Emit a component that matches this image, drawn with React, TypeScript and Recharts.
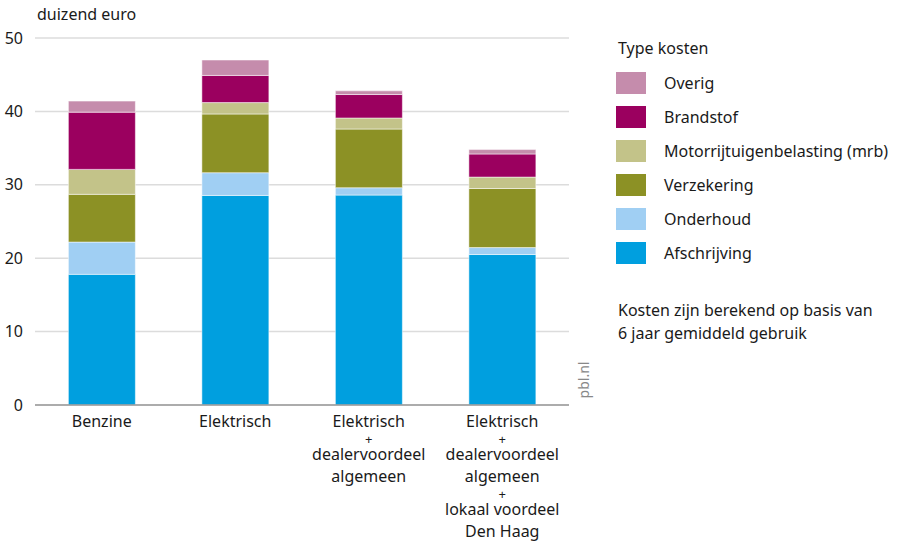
import { BarChart, Bar, XAxis, YAxis, CartesianGrid } from "recharts";

const categories = [
  "Benzine",
  "Elektrisch",
  "Elektrisch\n+\ndealervoordeel\nalgemeen",
  "Elektrisch\n+\ndealervoordeel\nalgemeen\n+\nlokaal voordeel\nDen Haag",
];

// waarden in duizend euro, van onder naar boven gestapeld
const afschrijving = [17.8, 28.55, 28.6, 20.5];
const onderhoud = [4.4, 3.1, 1.0, 0.95];
const verzekering = [6.5, 8.0, 8.0, 8.05];
const mrb = [3.4, 1.55, 1.5, 1.55];
const brandstof = [7.8, 3.7, 3.2, 3.15];
const overig = [1.5, 2.1, 0.5, 0.6];

const yTicks = [0, 10, 20, 30, 40, 50];

const series = [
  { key: "afschrijving", name: "Afschrijving", values: afschrijving, color: "#009fdf" },
  { key: "onderhoud", name: "Onderhoud", values: onderhoud, color: "#a0cff3" },
  { key: "verzekering", name: "Verzekering", values: verzekering, color: "#8c9125" },
  { key: "mrb", name: "Motorrijtuigenbelasting (mrb)", values: mrb, color: "#c3c389" },
  { key: "brandstof", name: "Brandstof", values: brandstof, color: "#9b005f" },
  { key: "overig", name: "Overig", values: overig, color: "#c58cac" },
];

const data = categories.map((c, i) => {
  const row: Record<string, string | number> = { name: c };
  series.forEach((s) => {
    row[s.key] = s.values[i];
  });
  return row;
});

const FONT = "'Noto Sans', sans-serif";
const TEXT = "#1a1a1a";

const CategoryTick = (props: any) => {
  const { x, y, payload } = props;
  const lines: string[] = String(payload.value).split("\n");
  let dy = 0;
  return (
    <g transform={`translate(${x},${y})`}>
      {lines.map((line, i) => {
        if (i > 0) dy += line === "+" || lines[i - 1] === "+" ? 16.5 : 22;
        return (
          <text
            key={i}
            x={0}
            y={14 + dy}
            textAnchor="middle"
            fontSize={line === "+" ? 13 : 16}
            fontFamily={FONT}
            fill={TEXT}
          >
            {line}
          </text>
        );
      })}
    </g>
  );
};

export default function App() {
  const legendItems = [...series].reverse();
  return (
    <div
      style={{
        position: "absolute",
        left: 0,
        top: 0,
        width: 902,
        height: 545,
        background: "#fff",
        fontFamily: FONT,
        color: TEXT,
      }}
    >
      <BarChart
        width={902}
        height={545}
        data={data}
        margin={{ top: 38, right: 333, bottom: 10, left: 0 }}
        barCategoryGap="25%"
      >
        <CartesianGrid vertical={false} stroke="#dcdcdc" strokeWidth={1.5} />
        <XAxis
          dataKey="name"
          height={130}
          interval={0}
          tickLine={false}
          axisLine={{ stroke: "#999", strokeWidth: 1.5 }}
          tick={<CategoryTick />}
        />
        <YAxis
          width={35}
          domain={[0, 50]}
          ticks={yTicks}
          axisLine={false}
          tickLine={false}
          tickMargin={6}
          tick={{ fontSize: 16, fill: TEXT, fontFamily: FONT }}
        />
        {series.map((s) => (
          <Bar
            key={s.key}
            dataKey={s.key}
            name={s.name}
            stackId="a"
            fill={s.color}
            stroke="#ffffff"
            strokeOpacity={0.5}
            strokeWidth={1}
            isAnimationActive={false}
          />
        ))}
      </BarChart>

      <div style={{ position: "absolute", left: 37, top: 3, fontSize: 16 }}>duizend euro</div>
      <div
        style={{
          position: "absolute",
          left: 583,
          top: 380,
          transform: "translate(-50%, -50%) rotate(-90deg)",
          fontSize: 14,
          color: "#888",
        }}
      >
        pbl.nl
      </div>

      <div style={{ position: "absolute", left: 618, top: 37, fontSize: 16 }}>Type kosten</div>
      {legendItems.map((s, i) => (
        <div
          key={s.key}
          style={{
            position: "absolute",
            left: 616,
            top: 72 + i * 34,
            height: 22,
            display: "flex",
            alignItems: "center",
          }}
        >
          <div style={{ width: 30, height: 22, background: s.color }} />
          <div style={{ marginLeft: 18, fontSize: 16, whiteSpace: "nowrap" }}>{s.name}</div>
        </div>
      ))}
      <div style={{ position: "absolute", left: 618, top: 299, fontSize: 16, lineHeight: "23px" }}>
        Kosten zijn berekend op basis van
        <br />6 jaar gemiddeld gebruik
      </div>
    </div>
  );
}
